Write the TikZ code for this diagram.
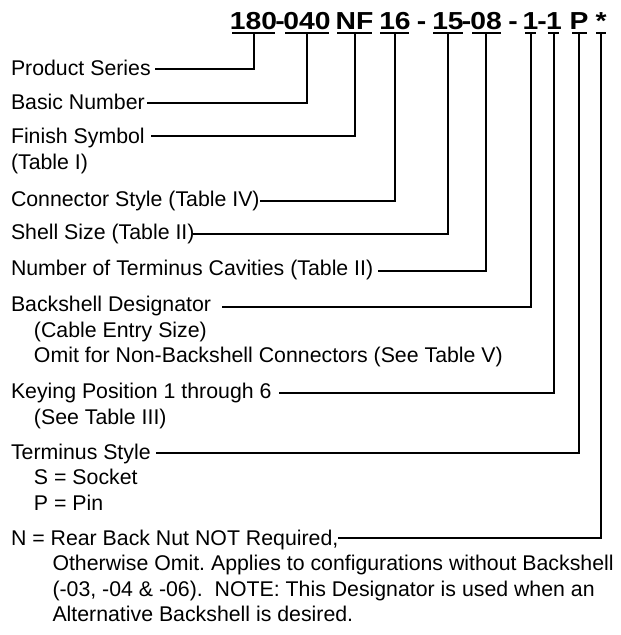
\documentclass[tikz,border=0pt]{standalone}
\usepackage{fontspec}
\setmainfont{Liberation Sans}
\newfontfamily\hdrfont[FakeStretch=1.15]{Liberation Sans}
\frenchspacing
\begin{document}
\begin{tikzpicture}[x=1pt,y=1pt,
  lbl/.style={anchor=base west, inner sep=0pt, outer sep=0pt, font=\fontsize{21.3}{25}\selectfont\frenchspacing},
  part/.style={anchor=base, inner sep=0pt, outer sep=0pt, text depth=3pt, font=\hdrfont\bfseries\fontsize{24.6}{29}\selectfont},
  conn/.style={line width=2pt, line join=miter},
  ul/.style={line width=2pt}]
\useasboundingbox (0,0) rectangle (621,-635);

% header parts
\node[part] (p180) at (253.5,-29.5) {180};
\node[part] (d1)   at (280,-29.5) {-};
\node[part] (p040) at (307,-29.5) {040};
\node[part] (pNF)  at (354.5,-29.5) {NF};
\node[part] (p16)  at (395,-29.5) {16};
\node[part] (d2)   at (421.5,-29.5) {-};
\node[part] (p15)  at (448,-29.5) {15};
\node[part] (d3)   at (466.5,-29.5) {-};
\node[part] (p08)  at (486,-29.5) {08};
\node[part] (d4)   at (513,-29.5) {-};
\node[part] (p1a)  at (530.5,-29.5) {1};
\node[part] (d5)   at (542,-29.5) {-};
\node[part] (p1b)  at (554,-29.5) {1};
\node[part] (pP)   at (579,-29.5) {P};
\node[part] (pS)   at (601,-29.5) {*};

% underlines
\draw[ul] (232,-32.5) -- (275,-32.5);
\draw[ul] (285,-32.5) -- (329,-32.5);
\draw[ul] (337,-32.5) -- (372,-32.5);
\draw[ul] (380,-32.5) -- (409,-32.5);
\draw[ul] (433,-32.5) -- (463,-32.5);
\draw[ul] (472,-32.5) -- (501,-32.5);
\draw[ul] (525,-32.5) -- (536,-32.5);
\draw[ul] (548,-32.5) -- (559,-32.5);
\draw[ul] (572,-32.5) -- (587,-32.5);
\draw[ul] (596,-32.5) -- (606,-32.5);

% labels
\node[lbl] (lps)  at (11,-75)    {Product Series};
\node[lbl] (lbn)  at (11,-109.5) {Basic Number};
\node[lbl] (lfs)  at (11,-143.5) {Finish Symbol};
\node[lbl] (lfs2) at (11,-169.5) {(Table I)};
\node[lbl] (lcs)  at (11,-206.5) {Connector Style (Table IV)};
\node[lbl] (lss)  at (11,-239.5) {Shell Size (Table II)};
\node[lbl] (ltc)  at (11,-275.5) {Number of Terminus Cavities (Table II)};
\node[lbl] (lbd)  at (11,-311.5) {Backshell Designator};
\node[lbl] (lbd2) at (34,-337)   {(Cable Entry Size)};
\node[lbl] (lbd3) at (34,-362.5) {Omit for Non-Backshell Connectors (See Table V)};
\node[lbl] (lkp)  at (11,-398.5) {Keying Position 1 through 6};
\node[lbl] (lkp2) at (34,-424)   {(See Table III)};
\node[lbl] (lts)  at (11,-459)   {Terminus Style};
\node[lbl] (lts2) at (34,-484.5) {S = Socket};
\node[lbl] (lts3) at (34,-510)   {P = Pin};
\node[lbl] (lnr)  at (11,-545)   {N = Rear Back Nut NOT Required,};
\node[lbl] (lnr2) at (52.5,-570.5) {Otherwise Omit. Applies to configurations without Backshell};
\node[lbl] (lnr3) at (52.5,-596)   {(-03, -04 \& -06).\ \ NOTE: This Designator is used when an};
\node[lbl] (lnr4) at (52.5,-621.5) {Alternative Backshell is desired.};

% connector ends
\coordinate (e1)  at (155,-68.8);
\coordinate (e2)  at (146.7,-103);
\coordinate (e3)  at (150.7,-135.7);
\coordinate (e4)  at (260,-200.7);
\coordinate (e5)  at (193.3,-233.5);
\coordinate (e6)  at (378,-271);
\coordinate (e7)  at (221.7,-306.7);
\coordinate (e8)  at (279,-393.3);
\coordinate (e9)  at (156,-452.7);
\coordinate (e10) at (338.3,-538);

\draw[conn] (p180.south) |- (e1);
\draw[conn] (p040.south) |- (e2);
\draw[conn] (pNF.south)  |- (e3);
\draw[conn] (p16.south)  |- (e4);
\draw[conn] (p15.south)  |- (e5);
\draw[conn] (p08.south)  |- (e6);
\draw[conn] (p1a.south)  |- (e7);
\draw[conn] (p1b.south)  |- (e8);
\draw[conn] (pP.south)   |- (e9);
\draw[conn] (pS.south)   |- (e10);
\end{tikzpicture}
\end{document}
